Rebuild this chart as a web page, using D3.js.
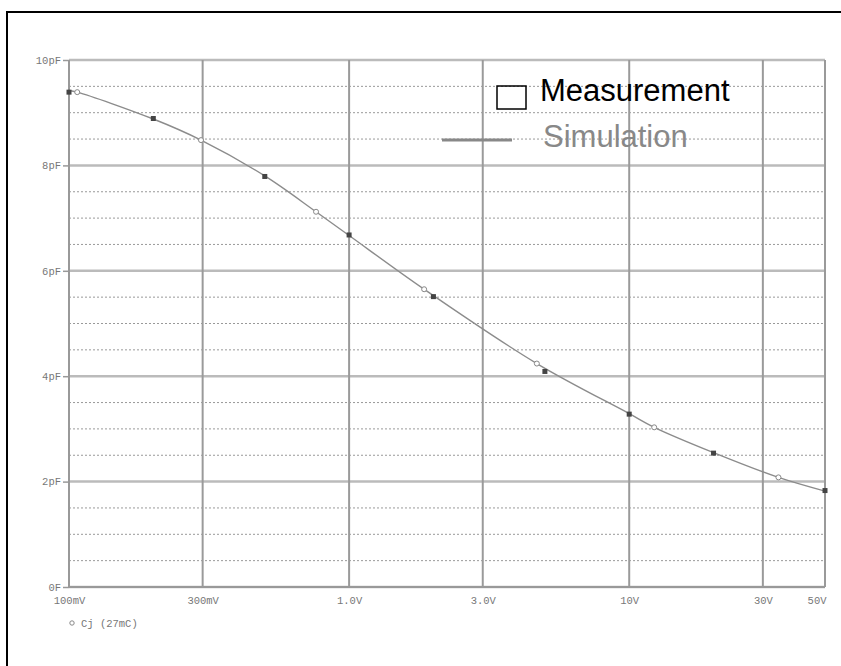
<!DOCTYPE html>
<html>
<head>
<meta charset="utf-8">
<script src="https://cdn.jsdelivr.net/npm/d3@7/dist/d3.min.js"></script>
<style>
html,body{margin:0;padding:0;background:#fff;overflow:hidden;}
svg{display:block;}
</style>
</head>
<body>
<svg id="chart" width="841" height="666"></svg>
<script>
// Data (voltage in V, capacitance in pF)
const measV = [0.1, 0.2, 0.5, 1.0, 2.0, 5.0, 10, 20, 50];
const measC = [9.39, 8.89, 7.79, 6.68, 5.51, 4.09, 3.28, 2.54, 1.83];
const simV = [0.1, 0.107, 0.2, 0.296, 0.5, 0.762, 1.0, 1.853, 4.68, 10, 12.28, 20, 34.1, 50];
const simC = [9.42, 9.39, 8.88, 8.48, 7.80, 7.12, 6.67, 5.65, 4.24, 3.29, 3.03, 2.55, 2.08, 1.82];
const markV = [0.107, 0.296, 0.762, 1.853, 4.68, 12.28, 34.1];
const markC = [9.39, 8.48, 7.12, 5.65, 4.24, 3.03, 2.08];
const xTicks = [0.1, 0.3, 1, 3, 10, 30, 50];
const xTickLabels = ["100mV", "300mV", "1.0V", "3.0V", "10V", "30V", "50V"];
const yTicks = [0, 2, 4, 6, 8, 10];
const yTickLabels = ["0F", "2pF", "4pF", "6pF", "8pF", "10pF"];
const yMinor = [0.5,1,1.5,2.5,3,3.5,4.5,5,5.5,6.5,7,7.5,8.5,9,9.5];
const legendLabels = ["Measurement", "Simulation"];
const traceLabel = "Cj (27mC)";

const svg = d3.select("#chart");
const L = 69, R = 825, T = 60, B = 587;
const x = d3.scaleLog().domain([0.1, 50]).range([L, R]);
const y = d3.scaleLinear().domain([0, 10]).range([B, T]);
const mono = "'Liberation Mono', 'DejaVu Sans Mono', monospace";

// outer frame
svg.append("rect").attr("x", 7).attr("y", 12).attr("width", 900).attr("height", 900)
  .attr("fill", "none").attr("stroke", "#000").attr("stroke-width", 2);

// minor dotted horizontal grid
svg.append("g").selectAll("line").data(yMinor).join("line")
  .attr("x1", L).attr("x2", R).attr("y1", d => y(d)).attr("y2", d => y(d))
  .attr("stroke", "#999").attr("stroke-width", 1).attr("stroke-dasharray", "2,2");

// major horizontal grid
svg.append("g").selectAll("line").data(yTicks).join("line")
  .attr("x1", L).attr("x2", R).attr("y1", d => y(d)).attr("y2", d => y(d))
  .attr("stroke", "#bbb").attr("stroke-width", 2.5);

// major vertical grid
svg.append("g").selectAll("line").data(xTicks).join("line")
  .attr("x1", d => x(d)).attr("x2", d => x(d)).attr("y1", T).attr("y2", B)
  .attr("stroke", "#9a9a9a").attr("stroke-width", 2);

// left axis line and bottom axis
svg.append("line").attr("x1", L).attr("x2", L).attr("y1", T).attr("y2", B)
  .attr("stroke", "#999").attr("stroke-width", 2);
svg.append("line").attr("x1", L).attr("x2", R).attr("y1", B).attr("y2", B)
  .attr("stroke", "#999").attr("stroke-width", 2);

// y axis via d3
const yAxis = d3.axisLeft(y).tickValues(yTicks).tickSize(6).tickPadding(2)
  .tickFormat((d, i) => yTickLabels[i]);
const gy = svg.append("g").attr("transform", `translate(${L},0)`).call(yAxis);
gy.select(".domain").remove();
gy.selectAll(".tick line").attr("stroke", "#999").attr("stroke-width", 1.5);
gy.selectAll("text").attr("fill", "#777").style("font-family", mono).style("font-size", "10.5px");

// x axis via d3
const xAxis = d3.axisBottom(x).tickValues(xTicks).tickSize(0).tickPadding(10)
  .tickFormat((d, i) => xTickLabels[i]);
const gx = svg.append("g").attr("transform", `translate(0,${B})`).call(xAxis);
gx.select(".domain").remove();
gx.selectAll("text").attr("fill", "#777").style("font-family", mono).style("font-size", "10.5px")
  .attr("text-anchor", (d, i) => i === xTicks.length - 1 ? "end" : "middle")
  .attr("dx", (d, i) => i === xTicks.length - 1 ? "1" : "0");

// trace label
svg.append("circle").attr("cx", 72).attr("cy", 623).attr("r", 2.2)
  .attr("fill", "#fff").attr("stroke", "#888").attr("stroke-width", 1);
svg.append("text").attr("x", 81).attr("y", 627).text(traceLabel)
  .attr("fill", "#777").style("font-family", mono).style("font-size", "10.5px")
  .attr("xml:space", "preserve");

// simulation line
const simData = simV.map((v, i) => [v, simC[i]]);
svg.append("path").datum(simData)
  .attr("d", d3.line().x(d => x(d[0])).y(d => y(d[1])).curve(d3.curveCatmullRom.alpha(0.5)))
  .attr("fill", "none").attr("stroke", "#8c8c8c").attr("stroke-width", 1.4);

// simulation trace markers (open circles)
svg.append("g").selectAll("circle").data(markV.map((v, i) => [v, markC[i]])).join("circle")
  .attr("cx", d => x(d[0])).attr("cy", d => y(d[1])).attr("r", 2.5)
  .attr("fill", "#fff").attr("stroke", "#888").attr("stroke-width", 1);

// measurement (filled squares)
svg.append("g").selectAll("rect").data(measV.map((v, i) => [v, measC[i]])).join("rect")
  .attr("x", d => x(d[0]) - 2.5).attr("y", d => y(d[1]) - 2.5).attr("width", 5).attr("height", 5)
  .attr("fill", "#444");

// legend
svg.append("rect").attr("x", 497).attr("y", 86).attr("width", 29).attr("height", 23)
  .attr("fill", "none").attr("stroke", "#000").attr("stroke-width", 1.5);
svg.append("text").attr("x", 540).attr("y", 101).text(legendLabels[0])
  .attr("fill", "#000").style("font-family", "'Liberation Sans', Arial, sans-serif").style("font-size", "31px");
svg.append("line").attr("x1", 442).attr("x2", 512).attr("y1", 140).attr("y2", 140)
  .attr("stroke", "#888").attr("stroke-width", 3);
svg.append("text").attr("x", 543).attr("y", 147).text(legendLabels[1])
  .attr("fill", "#888").style("font-family", "'Liberation Sans', Arial, sans-serif").style("font-size", "31px");
</script>
</body>
</html>
